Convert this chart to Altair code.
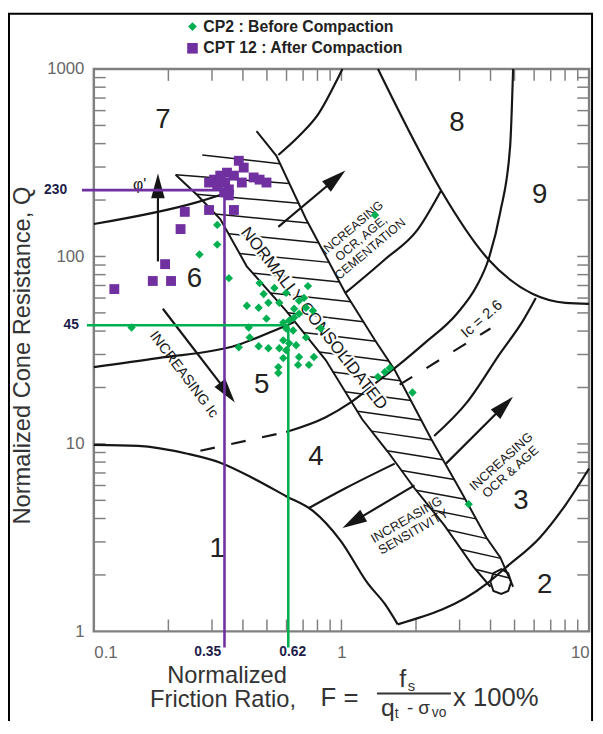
import altair as alt
import pandas as pd

GREEN = "#00B050"
PURPLE = "#7030A0"
INK = "#161616"
FRAME = "#808080"
NAVY = "#1d1d4a"
FONT = "Liberation Sans"

# ---------------- CPT data (F in %, Q) ----------------
cp2_F = [0.315, 0.315, 0.267, 0.351, 0.142, 0.467, 0.536, 0.598, 0.732, 0.485,
         0.415, 0.463, 0.507, 0.561, 0.674, 0.706, 0.719, 0.644, 0.767, 0.498,
         0.422, 0.582, 0.615, 0.644, 0.674, 0.598, 0.638, 0.426, 0.719, 0.825,
         0.582, 0.615, 0.656, 0.385, 0.463, 0.507, 0.561, 0.598, 0.674, 0.582,
         0.739, 0.774, 0.556, 0.556, 0.668, 1.404, 1.497, 1.567, 1.936, 1.366, 3.265]
cp2_Q = [147.4, 115.7, 102.4, 76.6, 41.8, 72.1, 67.9, 63.9, 69.5, 63.1,
         54.6, 53.3, 56.6, 56.6, 58.0, 60.1, 53.3, 52.6, 51.3, 46.6,
         41.8, 44.4, 45.5, 47.2, 49.5, 41.3, 40.3, 37.0, 37.0, 41.3,
         35.7, 34.4, 33.6, 32.8, 33.2, 32.4, 32.4, 31.6, 29.1, 28.7,
         26.4, 29.1, 25.7, 23.9, 26.4, 22.8, 24.2, 25.4, 18.8, 166.4, 4.77]
cpt12_F = [0.385, 0.403, 0.345, 0.324, 0.306, 0.292, 0.339, 0.368, 0.442, 0.498,
           0.467, 0.351, 0.351, 0.336, 0.233, 0.292, 0.368, 0.224, 0.194, 0.173,
           0.205, 0.121, 0.396, 0.315]
cpt12_Q = [324, 298, 280, 270, 257, 248, 248, 270, 264, 248,
           257, 228, 212, 220, 173, 177, 177, 140, 91, 74,
           74, 67, 248, 242]
series_names = ["CP2 : Before Compaction", "CPT 12 : After Compaction"]

# reference lines (as drawn) and their labels
purple_F, purple_Q = 0.337, 226
green_F, green_Q = 0.61, 43
ref_label_text = ["230", "45", "0.35", "0.62"]

# ---------------- axes ----------------
x_label_values = [0.1, 1, 10]
y_label_values = [1, 10, 100, 1000]
x_minor = [0.2, 0.3, 0.4, 0.5, 0.6, 0.7, 0.8, 0.9, 1, 2, 3, 4, 5, 6, 7, 8, 9]
y_minor = [2, 3, 4, 5, 6, 7, 8, 9, 10, 20, 30, 40, 50, 60, 70, 80, 90, 100,
           200, 300, 400, 500, 600, 700, 800, 900]

# ---------------- soil behaviour type boundaries (F, Q) ----------------
zone1_F = [0.1, 0.151, 0.239, 0.324, 0.442, 0.598, 0.767, 0.991, 1.282, 1.497, 1.687]
zone1_Q = [9.88, 9.76, 8.86, 7.94, 6.54, 5.26, 4.39, 3.05, 1.79, 1.40, 1.09]
zone2_F = [1.687, 3.852, 4.627, 6.323, 8.026, 10]
zone2_Q = [1.09, 1.79, 2.2, 3.16, 4.72, 7.39]
b34a_F = [0.739, 1.037, 1.641]
b34a_Q = [4.55, 5.8, 7.85]
b34b_F = [2.368, 3.206, 4.379, 5.41, 6.094]
b34b_Q = [11.02, 16.6, 30.5, 45.5, 60.1]
b45_F = [0.598, 0.864, 1.086, 1.430, 1.799, 2.161, 2.925, 3.515, 3.923, 4.379, 4.8, 4.934]
b45_Q = [11.57, 13.87, 16.6, 22.0, 28.0, 34.4, 49.5, 69.5, 96.4, 172.6, 388, 1000]
b56a_F = [0.1, 0.1815, 0.378, 0.561, 0.644]
b56a_Q = [25.7, 28.7, 33.6, 41.3, 44.6]
b56b_F = [1.037, 1.497, 2.027, 2.526]
b56b_Q = [63.9, 96.4, 138.7, 225]
b67_F = [0.1, 0.262, 0.368]
b67_Q = [149, 195, 225]
b7_F = [0.556, 0.674, 0.810, 0.964, 1.009]
b7_Q = [348, 439, 580, 885, 1000]
b89_F = [1.404, 1.849, 2.526, 3.923, 5.93, 8.026, 10]
b89_Q = [1000, 483, 225, 96.4, 63.1, 56.6, 55.9]

# normally consolidated band
band_left_F = [0.214, 0.262, 0.324, 0.4145, 0.598, 0.864, 1.2125, 1.539, 1.972, 2.596, 3.42, 3.996]
band_left_Q = [273, 212, 158.5, 88.6, 51.3, 28.0, 13.54, 9.08, 5.8, 3.7, 2.2, 1.73]
band_right_F = [0.454, 0.546, 0.719, 1.037, 1.366, 1.641, 2.304, 3.035, 3.852, 4.379, 4.934]
band_right_Q = [466, 344, 158.5, 63.9, 35.7, 24.8, 10.63, 5.59, 3.16, 2.48, 1.73]
band_end_F = [3.996, 4.107, 4.420, 4.713, 4.845, 4.713, 4.420, 4.107, 3.996]
band_end_Q = [1.833, 2.044, 2.146, 2.044, 1.833, 1.643, 1.585, 1.643, 1.833]
hatch_F1 = [0.274, 0.214, 0.2595, 0.3095, 0.349, 0.3876, 0.4387, 0.5166, 0.607, 0.703, 0.814,
            0.924, 1.034, 1.159, 1.323, 1.528, 1.748, 2.0, 2.321, 2.681, 3.045, 3.473]
hatch_Q1 = [348, 273, 214.6, 168.4, 132.2, 103.7, 81.4, 63.9, 50.1, 39.3, 30.9,
            24.2, 19.0, 14.92, 11.7, 9.19, 7.21, 5.656, 4.441, 3.484, 2.734, 2.146]
hatch_F2 = [0.565, 0.615, 0.671, 0.733, 0.808, 0.892, 0.983, 1.092, 1.225, 1.375, 1.553,
            1.731, 1.908, 2.102, 2.317, 2.57, 2.851, 3.159, 3.499, 3.876, 4.395, 4.76]
hatch_Q2 = [312, 245, 192.4, 151, 118.5, 93.0, 73.0, 57.3, 44.9, 35.3, 27.7,
            21.7, 17.04, 13.37, 10.5, 8.24, 6.465, 5.074, 3.981, 3.124, 2.452, 1.924]

# Ic = 2.6 dashed pieces
ic_dash_F1 = [0.2693, 1.718]
ic_dash_Q1 = [9.19, 20.7]
ic_dash_F2 = [0.598, 3.996]
ic_dash_Q2 = [11.57, 41.3]

# arrows: shaft start / end, head position and heading
arrow_F1 = [0.1815, 0.190, 0.5559, 2.644, 1.972]
arrow_Q1 = [94.1, 52.6, 143.9, 7.85, 6.01]
arrow_F2 = [0.1815, 0.3462, 0.950, 4.544, 1.114]
arrow_Q2 = [215, 18.76, 260.5, 16.04, 3.839]
head_F = [0.1815, 0.3462, 0.950, 4.544, 1.114]
head_Q = [237.8, 18.76, 260.5, 16.04, 3.839]
head_angle = [0, 142.5, 50, 45, 239.5]

# zone numbers
zone_text = ["1", "2", "3", "4", "5", "6", "7", "8", "9"]
zone_F = [0.3148, 6.618, 5.31, 0.788, 0.4757, 0.2549, 0.190, 2.925, 6.323]
zone_Q = [2.734, 1.768, 4.952, 8.545, 20.7, 75.7, 532, 513, 212]

# rotated annotations
note_text = ["INCREASING Ic", "INCREASING\nOCR, AGE,\nCEMENTATION",
             "INCREASING\nOCR & AGE", "INCREASING\nSENSITIVITY", "Ic = 2.6", "\u03c6'"]
note_F = [0.2304, 1.106, 4.42, 1.832, 3.678, 0.153]
note_Q = [23.4, 142.1, 8.04, 3.933, 46.6, 239.3]
note_angle = [53, 320, 318, 330, 319, 0]
note_size = [14.5, 12.5, 13, 13, 15, 16]
nc_text = ["NORMALLY CONSOLIDATED"]
nc_F = [0.7735]
nc_Q = [46.6]

# ---------------- scales / axes ----------------
xs = alt.Scale(type="log", domain=[0.1, 10], nice=False)
ys = alt.Scale(type="log", domain=[1, 1000], nice=False)
x_axis = alt.Axis(values=x_label_values, format="~g", title=None, grid=False, ticks=False,
                  tickSize=0, domain=False, labelFontSize=17, labelColor="#666",
                  labelFont=FONT, labelPadding=13, labelFlush=True)
y_axis = alt.Axis(values=y_label_values, format="~g", title="Normalized Cone Resistance, Q",
                  grid=False, ticks=False, tickSize=0, domain=False, labelFontSize=17,
                  labelColor="#666", labelFont=FONT, labelPadding=10, labelFlush=False,
                  titleFont=FONT, titleFontSize=24, titleFontWeight="normal",
                  titleColor="#333", titlePadding=12, titleY=290)
X = alt.X("F:Q", scale=xs, axis=x_axis)
Y = alt.Y("Q:Q", scale=ys, axis=y_axis)
X2 = alt.X2("F2:Q")
Y2 = alt.Y2("Q2:Q")


def rows(name, F, Q):
    return [{"id": name, "ord": i, "F": f, "Q": q} for i, (f, q) in enumerate(zip(F, Q))]


smooth = []
for nm, f, q in [("z1", zone1_F, zone1_Q), ("z2", zone2_F, zone2_Q), ("b34a", b34a_F, b34a_Q),
                 ("b34b", b34b_F, b34b_Q), ("b45", b45_F, b45_Q), ("b56a", b56a_F, b56a_Q),
                 ("b56b", b56b_F, b56b_Q), ("b67", b67_F, b67_Q), ("b7", b7_F, b7_Q),
                 ("b89", b89_F, b89_Q)]:
    smooth += rows(nm, f, q)
smooth_df = pd.DataFrame(smooth)

band = rows("bl", band_left_F, band_left_Q) + rows("br", band_right_F, band_right_Q) + \
    rows("be", band_end_F, band_end_Q)
band_df = pd.DataFrame(band)

hatch_df = pd.DataFrame({"F": hatch_F1, "Q": hatch_Q1, "F2": hatch_F2, "Q2": hatch_Q2})
dash_df = pd.DataFrame({"F": ic_dash_F1, "Q": ic_dash_Q1, "F2": ic_dash_F2, "Q2": ic_dash_Q2})
shaft_df = pd.DataFrame({"F": arrow_F1, "Q": arrow_Q1, "F2": arrow_F2, "Q2": arrow_Q2})
head_df = pd.DataFrame({"F": head_F, "Q": head_Q, "a": head_angle})
zone_df = pd.DataFrame({"F": zone_F, "Q": zone_Q, "t": zone_text})
note_df = pd.DataFrame({"F": note_F, "Q": note_Q, "t": note_text, "a": note_angle, "s": note_size})
nc_df = pd.DataFrame({"F": nc_F, "Q": nc_Q, "t": nc_text})

cp2_df = pd.DataFrame({"F": cp2_F, "Q": cp2_Q})
cpt12_df = pd.DataFrame({"F": cpt12_F, "Q": cpt12_Q})

purple_ref_df = pd.DataFrame({
    "F": [purple_F, 0.0896], "Q": [0.82, purple_Q],
    "F2": [purple_F, purple_F], "Q2": [purple_Q, purple_Q]})
green_ref_df = pd.DataFrame({
    "F": [green_F, 0.0938], "Q": [0.82, green_Q],
    "F2": [green_F, green_F], "Q2": [green_Q, green_Q]})
reflab_right_df = pd.DataFrame({"F": [0.078, 0.0871, 0.3266], "Q": [purple_Q, green_Q, 0.78],
                                "t": ref_label_text[:3]})
reflab_left_df = pd.DataFrame({"F": [0.561], "Q": [0.78], "t": ref_label_text[3:]})

one = pd.DataFrame({"k": [0]})

# ---------------- layers ----------------
frame = alt.Chart(one).mark_rect(fillOpacity=0, stroke="black", strokeWidth=2).encode(
    x=alt.value(-86), x2=alt.value(505), y=alt.value(-56), y2=alt.value(700))

xt = pd.DataFrame({"F": x_minor})
yt = pd.DataFrame({"Q": y_minor})
tb = alt.Chart(xt).mark_rule(color=FRAME, strokeWidth=1.5).encode(x=X, y=alt.value(570), y2=alt.value(558))
tt = alt.Chart(xt).mark_rule(color=FRAME, strokeWidth=1.5).encode(x=X, y=alt.value(0), y2=alt.value(12))
tl = alt.Chart(yt).mark_rule(color=FRAME, strokeWidth=1.5).encode(y=Y, x=alt.value(0), x2=alt.value(12))
tr = alt.Chart(yt).mark_rule(color=FRAME, strokeWidth=1.5).encode(y=Y, x=alt.value(502), x2=alt.value(490))

bounds = alt.Chart(smooth_df).mark_line(color=INK, strokeWidth=2.2, interpolate="monotone").encode(
    x=X, y=Y, detail="id:N", order="ord:Q")
band_lines = alt.Chart(band_df).mark_line(color=INK, strokeWidth=2).encode(
    x=X, y=Y, detail="id:N", order="ord:Q")
hatches = alt.Chart(hatch_df).mark_rule(color=INK, strokeWidth=1.5).encode(x=X, y=Y, x2=X2, y2=Y2)
dashes = alt.Chart(dash_df).mark_rule(color=INK, strokeWidth=2.2, strokeDash=[15, 17]).encode(
    x=X, y=Y, x2=X2, y2=Y2)
shafts = alt.Chart(shaft_df).mark_rule(color=INK, strokeWidth=2.2).encode(x=X, y=Y, x2=X2, y2=Y2)
heads = alt.Chart(head_df).mark_point(shape="M0,-1L0.55,1L-0.55,1Z", filled=True, size=625,
                                      color=INK, opacity=1).encode(
    x=X, y=Y, angle=alt.Angle("a:Q", scale=None))

zones = alt.Chart(zone_df).mark_text(font=FONT, fontSize=28, color="#222").encode(
    x=X, y=Y, text="t:N")
nc_halo = alt.Chart(nc_df).mark_text(font=FONT, fontSize=17, angle=52, stroke="white",
                                     strokeWidth=4, color="white").encode(x=X, y=Y, text="t:N")
nc = alt.Chart(nc_df).mark_text(font=FONT, fontSize=17, angle=52, color=INK).encode(
    x=X, y=Y, text="t:N")
notes = alt.Chart(note_df).mark_text(font=FONT, color=INK, lineBreak="\n", lineHeight=14).encode(
    x=X, y=Y, text="t:N", angle=alt.Angle("a:Q", scale=None), size=alt.Size("s:Q", scale=None))

purple_ref = alt.Chart(purple_ref_df).mark_rule(strokeWidth=2.6, color=PURPLE).encode(
    x=X, y=Y, x2=X2, y2=Y2)
green_ref = alt.Chart(green_ref_df).mark_rule(strokeWidth=2.6, color=GREEN).encode(
    x=X, y=Y, x2=X2, y2=Y2)
reflabs_r = alt.Chart(reflab_right_df).mark_text(
    font=FONT, fontSize=14, fontWeight="bold", color=NAVY, align="right").encode(
    x=X, y=Y, text="t:N")
reflabs_l = alt.Chart(reflab_left_df).mark_text(
    font=FONT, fontSize=14, fontWeight="bold", color=NAVY, align="left").encode(
    x=X, y=Y, text="t:N")

cp2_pts = alt.Chart(cp2_df).mark_point(shape="diamond", filled=True, opacity=1, size=72,
                                       color=GREEN).encode(x=X, y=Y)
cpt12_pts = alt.Chart(cpt12_df).mark_point(shape="square", filled=True, opacity=1, size=100,
                                           color=PURPLE).encode(x=X, y=Y)

# legend (drawn as symbols + text above the plot)
leg_diamond = alt.Chart(one).mark_point(shape="diamond", filled=True, opacity=1, size=80,
                                        color=GREEN).encode(x=alt.value(100), y=alt.value(-43))
leg_square = alt.Chart(one).mark_point(shape="square", filled=True, opacity=1, size=115,
                                       color=PURPLE).encode(x=alt.value(100), y=alt.value(-21))
leg_t1 = alt.Chart(one).mark_text(text=series_names[0], font=FONT, fontSize=16, fontWeight="bold",
                                  color="#222", align="left").encode(x=alt.value(111), y=alt.value(-43))
leg_t2 = alt.Chart(one).mark_text(text=series_names[1], font=FONT, fontSize=16, fontWeight="bold",
                                  color="#222", align="left").encode(x=alt.value(111), y=alt.value(-21))


def label(text, x, y, size, align="center"):
    return alt.Chart(one).mark_text(text=text, font=FONT, fontSize=size, color="#333",
                                    align=align, baseline="middle").encode(
        x=alt.value(x), y=alt.value(y))


title_parts = [
    label("Normalized", 135, 615, 24),
    label("Friction Ratio,", 131, 640, 24),
    label("F =", 249, 638, 26),
    label("f", 313, 618, 25),
    label("s", 322, 625, 15),
    label("q", 298, 648, 25),
    label("t", 307, 654, 14),
    label("- \u03c3", 329, 648, 19),
    label("vo", 350, 653, 14),
    label("x 100%", 364, 638, 26, "left"),
]
bar = alt.Chart(one).mark_rule(color="#333", strokeWidth=2).encode(
    x=alt.value(287), x2=alt.value(362), y=alt.value(633))

chart = alt.layer(
    frame, tb, tt, tl, tr, bounds, band_lines, hatches, dashes, shafts, heads,
    zones, nc_halo, nc, notes, purple_ref, green_ref, reflabs_r, reflabs_l,
    cp2_pts, cpt12_pts, leg_diamond, leg_square, leg_t1, leg_t2, bar, *title_parts
).properties(
    width=502, height=570,
    autosize=alt.AutoSizeParams(type="none"),
    padding={"left": 87, "top": 57, "right": 6, "bottom": 86},
    background="white",
).configure_view(stroke=FRAME, strokeWidth=2.5)

chart.save("out.html", embed_options={"renderer": "svg", "actions": False})
